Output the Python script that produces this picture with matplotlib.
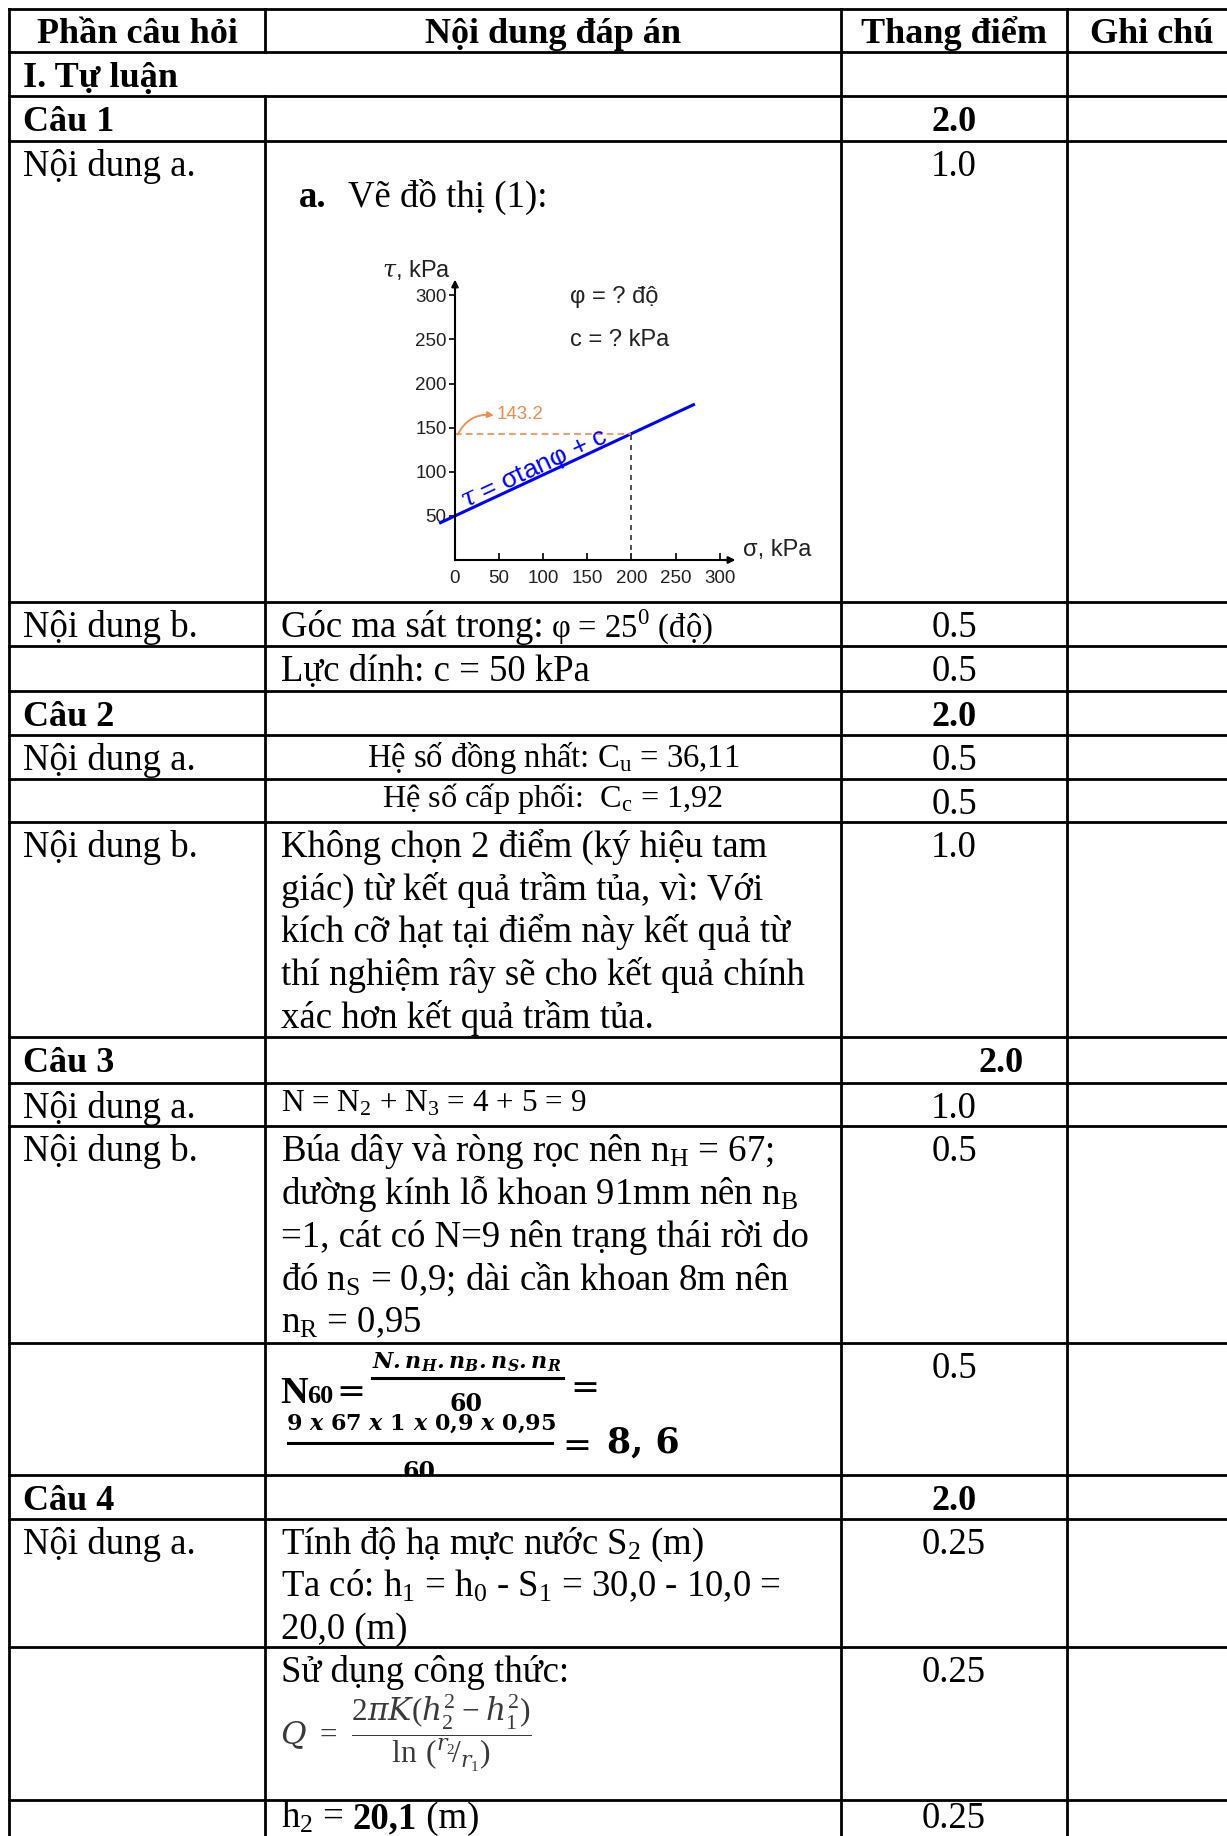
import matplotlib
matplotlib.use("Agg")
import matplotlib.pyplot as plt
from matplotlib.patches import Rectangle

W, H = 1227, 1836
plt.rcParams['mathtext.fontset'] = 'custom'
plt.rcParams['mathtext.rm'] = 'Liberation Serif'
plt.rcParams['mathtext.it'] = 'DejaVu Serif:italic'
plt.rcParams['mathtext.bf'] = 'DejaVu Serif:bold'
try:
    plt.rcParams['mathtext.bfit'] = 'DejaVu Serif:italic:bold'
    BFIT = r'\mathbfit'
except KeyError:
    BFIT = r'\mathbf'

# ---------------- data ----------------
headers = ["Phần câu hỏi", "Nội dung đáp án", "Thang điểm", "Ghi chú"]
section_title = "I. Tự luận"
part_labels = ["", "Câu 1", "Nội dung a.", "Nội dung b.", "", "Câu 2", "Nội dung a.", "",
               "Nội dung b.", "Câu 3", "Nội dung a.", "Nội dung b.", "", "Câu 4",
               "Nội dung a.", "", ""]
scores = ["", "2.0", "1.0", "0.5", "0.5", "2.0", "0.5", "0.5", "1.0", "2.0", "1.0",
          "0.5", "0.5", "2.0", "0.25", "0.25", "0.25"]
bold_rows = [1, 5, 9, 13]

chart_title_bold = "a."
chart_title = "Vẽ đồ thị (1):"
ans_c1b_parts = ["Góc ma sát trong:", "φ = $25^{0}$ (độ)"]
ans_c1b_2 = "Lực dính: c = 50 kPa"
ans_c2a = [r"Hệ số đồng nhất: $\mathrm{C_u}$ = 36,11", r"Hệ số cấp phối:  $\mathrm{C_c}$ = 1,92"]
ans_c2b = ["Không chọn 2 điểm (ký hiệu tam",
           "giác) từ kết quả trầm tủa, vì: Với",
           "kích cỡ hạt tại điểm này kết quả từ",
           "thí nghiệm rây sẽ cho kết quả chính",
           "xác hơn kết quả trầm tủa."]
ans_c3a = r"N = $\mathrm{N_2}$ + $\mathrm{N_3}$ = 4 + 5 = 9"
ans_c3b = [r"Búa dây và ròng rọc nên $\mathrm{n_H}$ = 67;",
           r"dường kính lỗ khoan 91mm nên $\mathrm{n_B}$",
           "=1, cát có N=9 nên trạng thái rời do",
           r"đó $\mathrm{n_S}$ = 0,9; dài cần khoan 8m nên",
           r"$\mathrm{n_R}$ = 0,95"]
n60_num = "$" + BFIT + r"{N.n_H.n_B.n_S.n_R}$"
n60_vals = "9 $" + BFIT + "{x}$ 67 $" + BFIT + "{x}$ 1 $" + BFIT + "{x}$ 0,9 $" + BFIT + "{x}$ 0,95"
n60_den = "60"
n60_result = "8, 6"
ans_c4a = [r"Tính độ hạ mực nước $\mathrm{S_2}$ (m)",
           r"Ta có: $\mathrm{h_1}$ = $\mathrm{h_0}$ - $\mathrm{S_1}$ = 30,0 - 10,0 =",
           "20,0 (m)"]
ans_c4b = "Sử dụng công thức:"
q_formula = r"$Q\;=\;\dfrac{2\pi K(h_2^2 - h_1^2)}{\ln\,({}^{r_2}\!/_{r_1})}$"
h2_parts = [r"$\mathrm{h_2}$ = ", "20,1", " (m)"]

# chart data
sigma_ticks = [0, 50, 100, 150, 200, 250, 300]
tau_ticks = [50, 100, 150, 200, 250, 300]
line_sigma = [-18, 272]
line_tau = [41.6, 176.8]
sigma_test = 200
tau_test = 143.2
tau_label = "143.2"
phi_text = "φ = ? độ"
c_text = "c = ? kPa"
eq_text = r"$\tau$ = σtanφ + c"

# ---------------- layout ----------------
col_edges = [9, 265, 841, 1067, 1237]
row_edges = [9.4, 51.5, 96, 140.5, 602, 646.3, 690.8, 735.3, 778.6, 822, 1037.3,
             1083, 1126.3, 1343, 1475.2, 1518.5, 1647.3, 1799.5]
LW = 2.0
SERIF = 'Liberation Serif'
FS = 26.5
LS = 42.7

fig = plt.figure(figsize=(W / 100, H / 100), dpi=100)
fig.patch.set_facecolor('white')
tab = fig.add_axes([0, 0, 1, 1])
tab.set_xlim(0, W)
tab.set_ylim(H, 0)
tab.axis('off')

# grid lines
for y in row_edges:
    tab.plot([col_edges[0], col_edges[-1]], [y, y], color='black', lw=LW, solid_capstyle='projecting')
for x in [col_edges[0], col_edges[2], col_edges[3]]:
    tab.plot([x, x], [row_edges[0], H + 5], color='black', lw=LW, solid_capstyle='projecting')
tab.plot([col_edges[1]] * 2, [row_edges[0], row_edges[1]], color='black', lw=LW)
tab.plot([col_edges[1]] * 2, [row_edges[2], H + 5], color='black', lw=LW)


def T(x, y, s, size=FS, weight='normal', ha='left', family=SERIF, **kw):
    return tab.text(x, y, s, fontsize=size, fontweight=weight, ha=ha, va='baseline',
                    family=family, **kw)


def base(r):
    return row_edges[r] + 35

fig.canvas.draw()
rend = fig.canvas.get_renderer()

# header
centers = [(col_edges[i] + col_edges[i + 1]) / 2 for i in range(4)]
for c, h in zip(centers, headers):
    T(c, row_edges[0] + 34, h, size=26, weight='bold', ha='center')
T(23, base(1), section_title, size=26, weight='bold')

# part labels and scores
for i, (lab, sc) in enumerate(zip(part_labels, scores)):
    r = i + 1
    w = 'bold' if i in bold_rows else 'normal'
    sz = 26 if i in bold_rows else FS
    if lab:
        T(23, base(r), lab, size=sz, weight=w)
    if sc:
        xc = 1001 if lab == "Câu 3" else centers[2]
        yb = 1828 if r == 17 else base(r)
        T(xc, yb, sc, size=sz, weight=w, ha='center')

# chart title
T(298.5, 207, chart_title_bold, weight='bold')
T(348, 207, chart_title)

# Câu 1 b
ta = T(281, base(4), ans_c1b_parts[0])
wa = ta.get_window_extent(rend).width
T(281 + wa + 7, base(4), ans_c1b_parts[1], size=23.5)
T(281, base(5), ans_c1b_2)
# Câu 2 a
T(centers[1], 766.5, ans_c2a[0], size=23.5, ha='center')
T(centers[1], 807.5, ans_c2a[1], size=23.2, ha='center')
# Câu 2 b
for k, s in enumerate(ans_c2b):
    T(281, base(9) + k * LS, s)
# Câu 3 a
T(281, 1111, ans_c3a, size=22.5)
# Câu 3 b
for k, s in enumerate(ans_c3b):
    T(281, base(12) + k * LS, s)

# N60 formula
t1 = T(280, 1403, "N", size=27.5, weight='bold')
wN = t1.get_window_extent(rend).width
T(280 + wN, 1403, "60", size=19, weight='bold')
tab.text(351, 1392, "=", fontsize=25, ha='center', va='center', family='DejaVu Serif')
tab.text(467, 1368, n60_num, fontsize=16, ha='center', va='baseline', family='DejaVu Serif')
tab.plot([372, 563], [1378, 1378], color='black', lw=2.2)
T(466, 1411, n60_den, size=17, weight='bold', ha='center', family='DejaVu Serif')
tab.text(585, 1388, "=", fontsize=25, ha='center', va='center', family='DejaVu Serif')
T(421, 1430, n60_vals, size=16, weight='bold', ha='center', family='DejaVu Serif')
tab.plot([288, 552], [1443, 1443], color='black', lw=2.2)
clip = Rectangle((265, 1343), 576, 133, transform=tab.transData)
td = T(419, 1479, n60_den, size=17, weight='bold', ha='center', family='DejaVu Serif', clip_on=True)
td.set_clip_path(clip)
tab.text(577, 1446, "=", fontsize=25, ha='center', va='center', family='DejaVu Serif')
T(607, 1453, n60_result, size=25, weight='bold', family='DejaVu Serif')

# Câu 4
for k, s in enumerate(ans_c4a):
    T(281, base(15) + k * LS, s)
T(281, base(16), ans_c4b)
tab.text(280, 1733, q_formula, fontsize=22.5, ha='left', va='center', color='#3a3a3a')

x = 281
for k, s in enumerate(h2_parts):
    t = T(x, 1828, s, weight='bold' if k == 1 else 'normal')
    x += t.get_window_extent(rend).width + (7 if k != 1 else 0)

# ---------------- inset chart ----------------
PX = 0.882
X0, Y0 = 455, 560
xlim = (-30, 330)
ylim = (-10, 330)
left = X0 + xlim[0] * PX
right = X0 + xlim[1] * PX
bottom = Y0 - ylim[0] * PX
top = Y0 - ylim[1] * PX
ax = fig.add_axes([left / W, 1 - bottom / H, (right - left) / W, (bottom - top) / H])
ax.set_xlim(*xlim)
ax.set_ylim(*ylim)
ax.patch.set_visible(False)
for s in ['top', 'right']:
    ax.spines[s].set_visible(False)
for s in ['left', 'bottom']:
    ax.spines[s].set_position(('data', 0))
    ax.spines[s].set_linewidth(1.5)
    ax.spines[s].set_bounds(0, 310)
ax.annotate('', xy=(318, 0), xytext=(305, 0),
            arrowprops=dict(arrowstyle='-|>', color='black', lw=1.5, mutation_scale=10,
                            shrinkA=0, shrinkB=0))
ax.annotate('', xy=(0, 318), xytext=(0, 305),
            arrowprops=dict(arrowstyle='-|>', color='black', lw=1.5, mutation_scale=10,
                            shrinkA=0, shrinkB=0))
ax.set_xticks(sigma_ticks)
ax.set_xticklabels([str(v) for v in sigma_ticks])
ax.set_yticks(tau_ticks)
ax.set_yticklabels([str(v) for v in tau_ticks])
ax.tick_params(axis='x', direction='in', length=5, width=1.2, pad=7, labelsize=13.5,
               labelcolor='#222222')
ax.tick_params(axis='y', direction='out', length=4.5, width=1.2, pad=1.5, labelsize=13.5,
               labelcolor='#222222')
for lab in ax.get_xticklabels() + ax.get_yticklabels():
    lab.set_family('Liberation Sans')

orange = '#F08C50'
ax.plot(line_sigma, line_tau, color='#0000FF', lw=2.2, solid_capstyle='butt')
ax.plot([0, sigma_test], [tau_test, tau_test], color=orange, lw=1.2, ls=(0, (4, 2.5)))
ax.plot([sigma_test, sigma_test], [0, tau_test], color='#333333', lw=1.2, ls=(0, (3, 3)))
ax.annotate('', xy=(44, 164), xytext=(3, 142),
            arrowprops=dict(arrowstyle='-|>', color=orange, lw=1.3, mutation_scale=9,
                            connectionstyle='arc3,rad=-0.35', shrinkA=0, shrinkB=0))
ax.text(47, 165, tau_label, color=orange, fontsize=13.5, va='center', ha='left',
        family='Liberation Sans')
ax.text(130, 298.5, phi_text, fontsize=17, va='center', ha='left', family='Liberation Sans',
        color='#222222')
ax.text(130, 249.5, c_text, fontsize=17, va='center', ha='left', family='Liberation Sans',
        color='#222222')
ax.text(-4.5, 329, r"$\tau$, kPa", fontsize=17, va='center', ha='right',
        family='Liberation Sans', clip_on=False, color='#222222')
ax.text(327, 11, "σ, kPa", fontsize=17, va='center', ha='left', family='Liberation Sans',
        clip_on=False, color='#222222')
ax.text(90.7, 102, eq_text, fontsize=19, va='center', ha='center', rotation=25,
        rotation_mode='anchor', color='#0000FF', family='Liberation Sans')

fig.savefig('out.png', dpi=100, facecolor='white')
